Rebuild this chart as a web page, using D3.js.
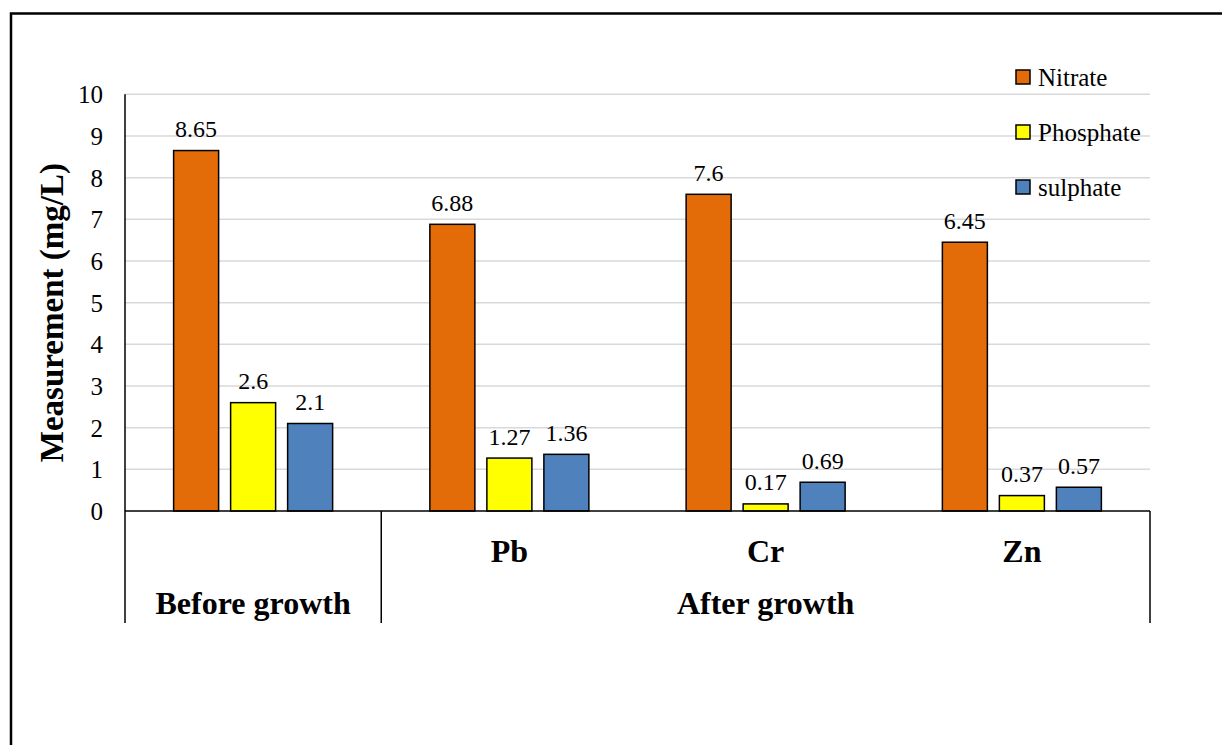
<!DOCTYPE html>
<html>
<head>
<meta charset="utf-8">
<script src="https://cdn.jsdelivr.net/npm/d3@7"></script>
</head>
<body style="margin:0">
<svg id="chart" width="1222" height="745"></svg>
<script>
// Nutrient concentrations before growth and after growth with each metal
const categories = ["Before growth", "Pb", "Cr", "Zn"];
const groups = [
  { name: "Before growth", members: ["Before growth"] },
  { name: "After growth", members: ["Pb", "Cr", "Zn"] }
];
const seriesNames = ["Nitrate", "Phosphate", "sulphate"];
const nitrate   = [8.65, 6.88, 7.6, 6.45];
const phosphate = [2.6, 1.27, 0.17, 0.37];
const sulphate  = [2.1, 1.36, 0.69, 0.57];
const seriesValues = [nitrate, phosphate, sulphate];
const seriesColors = ["#E36C09", "#FFFF00", "#4F81BD"];
const yTicks = [0, 1, 2, 3, 4, 5, 6, 7, 8, 9, 10];

const serif = (sel, size, bold) => sel
  .style("font-family", "Liberation Serif")
  .attr("font-size", size)
  .attr("font-weight", bold ? "bold" : "normal")
  .attr("fill", "#000");

const svg = d3.select("#chart");

// Outer frame
svg.append("rect")
  .attr("x", 11).attr("y", 13.5)
  .attr("width", 1300).attr("height", 800)
  .attr("fill", "none").attr("stroke", "#000").attr("stroke-width", 2.5);

const plot = { left: 125, right: 1150, top: 94.3, bottom: 511, labelBottom: 623 };

const x = d3.scaleBand().domain(categories).range([plot.left, plot.right]).padding(0);
const xs = d3.scaleBand().domain(seriesNames).range([0, x.bandwidth()])
  .paddingInner(0.2105).paddingOuter(0.853);
const y = d3.scaleLinear().domain([0, 10]).range([plot.bottom, plot.top]);
const color = d3.scaleOrdinal().domain(seriesNames).range(seriesColors);

// Gridlines
svg.append("g")
  .selectAll("line")
  .data(yTicks.filter(d => d > 0))
  .join("line")
  .attr("x1", plot.left).attr("x2", plot.right)
  .attr("y1", d => y(d)).attr("y2", d => y(d))
  .attr("stroke", "#d9d9d9").attr("stroke-width", 1.5);

// Y axis tick labels
svg.append("g")
  .selectAll("text")
  .data(yTicks)
  .join("text")
  .attr("x", plot.left - 22)
  .attr("y", d => y(d) + 9)
  .attr("text-anchor", "end")
  .call(serif, 25, false)
  .text(d => d);

svg.append("line")
  .attr("x1", plot.left).attr("x2", plot.left)
  .attr("y1", plot.top).attr("y2", plot.labelBottom)
  .attr("stroke", "#000").attr("stroke-width", 1.5);

// Y axis title
svg.append("text")
  .attr("transform", `translate(63,${(plot.top + plot.bottom) / 2 + 10}) rotate(-90)`)
  .attr("text-anchor", "middle")
  .call(serif, 33, true)
  .text("Measurement (mg/L)");

// Bars
const rows = [];
categories.forEach((c, i) => {
  seriesNames.forEach((s, j) => rows.push({ cat: c, series: s, value: seriesValues[j][i] }));
});

const barG = svg.append("g");
barG.selectAll("rect")
  .data(rows)
  .join("rect")
  .attr("x", d => x(d.cat) + xs(d.series))
  .attr("y", d => y(d.value))
  .attr("width", xs.bandwidth())
  .attr("height", d => y(0) - y(d.value))
  .attr("fill", d => color(d.series))
  .attr("stroke", "#000").attr("stroke-width", 1.5);

// Value labels
barG.selectAll("text")
  .data(rows)
  .join("text")
  .attr("x", d => x(d.cat) + xs(d.series) + xs.bandwidth() / 2)
  .attr("y", d => y(d.value) - 13.5)
  .attr("text-anchor", "middle")
  .call(serif, 24, false)
  .text(d => d.value);

// Category axis line and separators
svg.append("line")
  .attr("x1", plot.left).attr("x2", plot.right)
  .attr("y1", plot.bottom).attr("y2", plot.bottom)
  .attr("stroke", "#000").attr("stroke-width", 1.5);

const groupBounds = groups.map(g => ({
  name: g.name,
  x0: x(g.members[0]),
  x1: x(g.members[g.members.length - 1]) + x.bandwidth(),
  members: g.members
}));

svg.append("g")
  .selectAll("line")
  .data(groupBounds.map(g => g.x1))
  .join("line")
  .attr("x1", d => d).attr("x2", d => d)
  .attr("y1", plot.bottom).attr("y2", plot.labelBottom)
  .attr("stroke", "#000").attr("stroke-width", 1.5);

// Inner category labels (only for groups with several members)
svg.append("g")
  .selectAll("text")
  .data(groupBounds.filter(g => g.members.length > 1).flatMap(g => g.members))
  .join("text")
  .attr("x", d => x(d) + x.bandwidth() / 2)
  .attr("y", 562)
  .attr("text-anchor", "middle")
  .call(serif, 32, true)
  .text(d => d);

// Group labels
svg.append("g")
  .selectAll("text")
  .data(groupBounds)
  .join("text")
  .attr("x", d => (d.x0 + d.x1) / 2)
  .attr("y", 614)
  .attr("text-anchor", "middle")
  .call(serif, 32, true)
  .text(d => d.name);

// Legend
const legend = svg.append("g").attr("transform", "translate(1016,0)");
const legendY = d3.scalePoint().domain(seriesNames).range([77, 187]);
const li = legend.selectAll("g").data(seriesNames).join("g")
  .attr("transform", d => `translate(0,${legendY(d)})`);
li.append("rect")
  .attr("x", 0).attr("y", -7).attr("width", 14).attr("height", 14)
  .attr("fill", d => color(d)).attr("stroke", "#000").attr("stroke-width", 1.5);
li.append("text")
  .attr("x", 22).attr("y", 8.5)
  .call(serif, 25, false)
  .text(d => d);
</script>
</body>
</html>
